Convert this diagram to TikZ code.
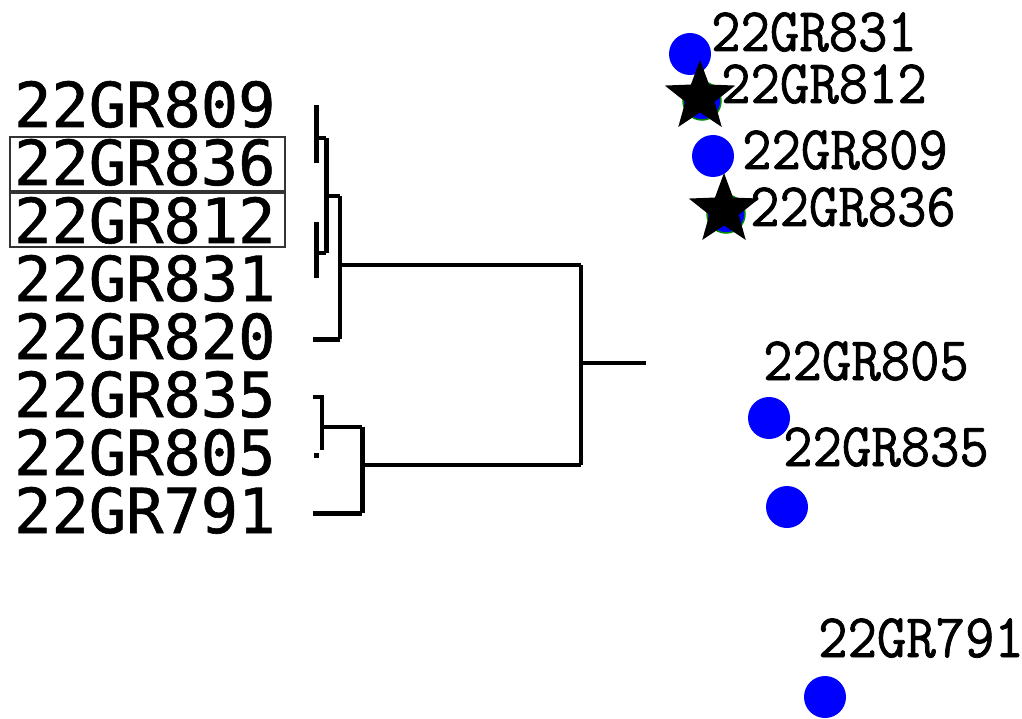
\documentclass[tikz,border=0pt]{standalone}
\usepackage{fontspec}
\usetikzlibrary{shapes.geometric}
\newfontfamily\leaffont[FakeBold=1]{DejaVu Sans Mono}
\newfontfamily\pointfont[FakeStretch=0.92,FakeBold=1.2]{Latin Modern Mono}
\definecolor{ptblue}{RGB}{0,0,255}
\definecolor{ptgreen}{RGB}{0,140,0}
\tikzset{
  leaf/.style={anchor=base west, inner sep=0pt, font=\leaffont\fontsize{62}{62}\selectfont},
  ptlabel/.style={anchor=base west, inner sep=0pt, text height=36pt, text depth=0pt,
    font=\pointfont\fontsize{62}{62}\selectfont},
  branch/.style={line width=3.5pt},
  thick branch/.style={line width=5pt},
  dot/.style={circle, fill=ptblue, minimum size=42pt, inner sep=0pt},
  underdot/.style={circle, fill=ptblue, draw=ptgreen, line width=1.5pt, minimum size=38pt, inner sep=0pt},
  starmark/.style={star, star points=5, star point ratio=2.4, fill=black, minimum size=74pt, inner sep=0pt},
  selbox/.style={draw=black!80, line width=1.6pt}
}
\begin{document}
\begin{tikzpicture}[x=1pt,y=-1pt]
\useasboundingbox[fill=white] (0,0) rectangle (1022,719);

% boxes around the two marked samples
\draw[selbox] (10,137) rectangle (285,191);
\draw[selbox] (10,193) rectangle (285,247);

% leaf labels
\node[leaf] (l809) at (14,127) {22GR809};
\node[leaf] (l836) at (14,185) {22GR836};
\node[leaf] (l812) at (14,243) {22GR812};
\node[leaf] (l831) at (14,301) {22GR831};
\node[leaf] (l820) at (14,359) {22GR820};
\node[leaf] (l835) at (14,417) {22GR835};
\node[leaf] (l805) at (14,475) {22GR805};
\node[leaf] (l791) at (14,533) {22GR791};

% join points of the tree
\coordinate (a1) at (316,105);  \coordinate (a2) at (316,163);
\coordinate (a)  at (316,138);
\coordinate (b1) at (316,222);  \coordinate (b2) at (316,278);
\coordinate (b)  at (316,253);
\coordinate (ab) at (326,196);  \coordinate (abtop) at (326,138);  \coordinate (abbot) at (326,253);
\coordinate (c)  at (340,265);  \coordinate (ctop) at (340,196);  \coordinate (cbot) at (340,339);
\coordinate (leaf820) at (313,339);
\coordinate (d1) at (313,397);  \coordinate (d)  at (322,427);  \coordinate (dbot) at (322,450);
\coordinate (e)  at (362,465);  \coordinate (etop) at (362,427);  \coordinate (ebot) at (362,513);
\coordinate (leaf791) at (313,513);
\coordinate (root) at (581,363);
\coordinate (rtop) at (581,265);  \coordinate (rbot) at (581,465);
\coordinate (stem) at (646,363);

% upper cluster
\draw[thick branch] (a1) -- (a2);
\draw[branch] (a) -- (abtop);
\draw[thick branch] (b1) -- (b2);
\draw[branch] (b) -- (abbot);
\draw[thick branch] (abtop) -- (abbot);
\draw[branch] (ab) -- (ctop);
\draw[branch] (ctop) -- (cbot);
\draw[thick branch] (leaf820) -- (cbot);
\draw[branch] (c) -- (rtop);

% lower cluster
\draw[branch] (d1) -| (dbot);
\fill (313.5,452.5) rectangle (318.5,457.5);
\draw[branch] (d) -- (etop);
\draw[thick branch] (etop) -- (ebot);
\draw[thick branch] (leaf791) -- (ebot);
\draw[branch] (e) -- (rbot);

% root
\draw[branch] (rtop) -- (rbot);
\draw[branch] (root) -- (stem);

% scatter of samples
\node[dot] (p831) at (690,54) {};
\node[underdot] (q812) at (702,101) {};
\node[starmark] (p812) at (700,97) {};
\node[dot] (p809) at (713,156) {};
\node[underdot] (q836) at (726,214) {};
\node[starmark] (p836) at (724,210) {};
\node[dot] (p805) at (769,418) {};
\node[dot] (p835) at (787,507) {};
\node[dot] (p791) at (825,697) {};

\node[ptlabel] (t831) at (711,51)  {22GR831};
\node[ptlabel] (t812) at (721,103) {22GR812};
\node[ptlabel] (t809) at (742,169) {22GR809};
\node[ptlabel] (t836) at (750,226) {22GR836};
\node[ptlabel] (t805) at (763,380) {22GR805};
\node[ptlabel] (t835) at (783,466) {22GR835};
\node[ptlabel] (t791) at (818,657) {22GR791};
\end{tikzpicture}
\end{document}
